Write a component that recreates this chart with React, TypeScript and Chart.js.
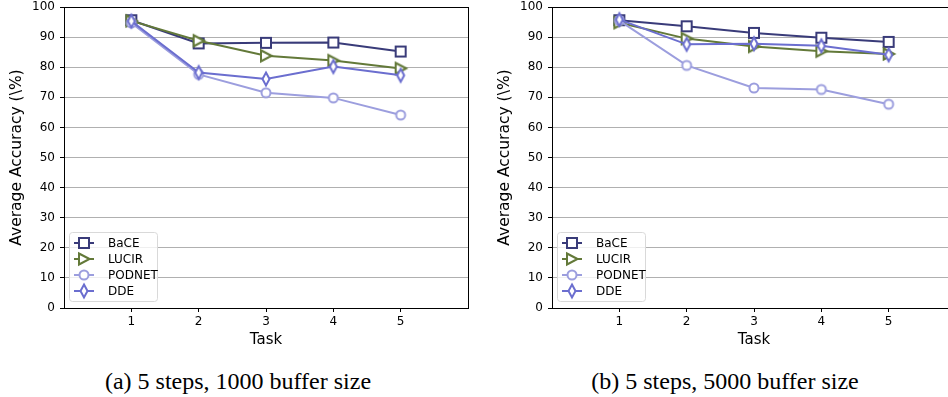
import React, { useEffect, useRef } from 'react';
import { Chart, registerables } from 'chart.js';

Chart.register(...registerables);

// ---------------- data ----------------
const tasks = [1, 2, 3, 4, 5];
const xTickLabels = ['1', '2', '3', '4', '5'];
const seriesNames = ['BaCE', 'LUCIR', 'PODNET', 'DDE'];

const bace1000 = [95.6, 87.9, 88.1, 88.2, 85.2];
const lucir1000 = [95.4, 88.8, 83.8, 82.2, 79.6];
const podnet1000 = [94.7, 77.6, 71.5, 69.8, 64.1];
const dde1000 = [95.3, 78.2, 76.1, 80.2, 77.3];

const bace5000 = [95.6, 93.6, 91.4, 89.8, 88.4];
const lucir5000 = [94.8, 89.5, 86.9, 85.3, 84.4];
const podnet5000 = [95.5, 80.6, 73.1, 72.6, 67.7];
const dde5000 = [95.8, 87.6, 87.8, 87.1, 84.1];

const captionA = '(a) 5 steps, 1000 buffer size';
const captionB = '(b) 5 steps, 5000 buffer size';

// ---------------- styles ----------------
const colors = ['#393b79', '#637939', '#9c9ede', '#6b6ecf'];
const shapes = ['square', 'triR', 'circle', 'thinDiamond'];
const FONT = 'DejaVu Sans';

function makeMarker(shape: string, color: string): HTMLCanvasElement {
  const c = document.createElement('canvas');
  c.width = 20;
  c.height = 20;
  const ctx = c.getContext('2d')!;
  ctx.translate(10, 10);
  ctx.beginPath();
  if (shape === 'square') {
    ctx.rect(-5, -5, 10, 10);
  } else if (shape === 'triR') {
    ctx.moveTo(5.5, 0);
    ctx.lineTo(-5, -5.5);
    ctx.lineTo(-5, 5.5);
    ctx.closePath();
  } else if (shape === 'circle') {
    ctx.arc(0, 0, 4.5, 0, Math.PI * 2);
  } else {
    ctx.moveTo(0, -6.5);
    ctx.lineTo(3.5, 0);
    ctx.lineTo(0, 6.5);
    ctx.lineTo(-3.5, 0);
    ctx.closePath();
  }
  ctx.fillStyle = '#ffffff';
  ctx.fill();
  ctx.lineWidth = 2;
  ctx.strokeStyle = color;
  ctx.lineJoin = 'miter';
  ctx.stroke();
  return c;
}

const frameLegendPlugin = {
  id: 'frameLegend',
  afterDraw(chart: any) {
    const { ctx, chartArea } = chart;
    const markers: HTMLCanvasElement[] = chart.options.plugins.frameLegend.markers;
    ctx.save();
    // frame
    const l = Math.round(chartArea.left) + 0.5;
    const t = Math.round(chartArea.top) + 0.5;
    const r = Math.round(chartArea.right) + 0.5;
    const b = Math.round(chartArea.bottom) + 0.5;
    ctx.strokeStyle = '#000';
    ctx.lineWidth = 1;
    ctx.strokeRect(l, t, r - l, b - t);

    // legend box
    const bx = Math.round(chartArea.left) + 5.5;
    const by = Math.round(chartArea.bottom) - 75.5;
    const bw = 88;
    const bh = 69;
    const rad = 3;
    ctx.beginPath();
    ctx.moveTo(bx + rad, by);
    ctx.lineTo(bx + bw - rad, by);
    ctx.arcTo(bx + bw, by, bx + bw, by + rad, rad);
    ctx.lineTo(bx + bw, by + bh - rad);
    ctx.arcTo(bx + bw, by + bh, bx + bw - rad, by + bh, rad);
    ctx.lineTo(bx + rad, by + bh);
    ctx.arcTo(bx, by + bh, bx, by + bh - rad, rad);
    ctx.lineTo(bx, by + rad);
    ctx.arcTo(bx, by, bx + rad, by, rad);
    ctx.closePath();
    ctx.fillStyle = 'rgba(255,255,255,0.8)';
    ctx.fill();
    ctx.strokeStyle = '#d9d9d9';
    ctx.lineWidth = 1;
    ctx.stroke();

    ctx.font = `12px "${FONT}"`;
    ctx.textBaseline = 'middle';
    ctx.textAlign = 'left';
    seriesNames.forEach((name, i) => {
      const cy = Math.round(by) + 10 + 16 * i;
      const lx = Math.round(bx) + 4;
      ctx.beginPath();
      ctx.moveTo(lx, cy);
      ctx.lineTo(lx + 20, cy);
      ctx.strokeStyle = colors[i];
      ctx.lineWidth = 2;
      ctx.stroke();
      ctx.drawImage(markers[i], lx + 10 - 10, cy - 10);
      ctx.fillStyle = '#000';
      ctx.fillText(name, lx + 34, cy + 1);
    });
    ctx.restore();
  },
};

function Panel({ left, series }: { left: number; series: number[][] }) {
  const ref = useRef<HTMLCanvasElement | null>(null);
  useEffect(() => {
    if (!ref.current) return;
    const markers = shapes.map((s, i) => makeMarker(s, colors[i]));
    const datasets = series.map((vals, i) => ({
      label: seriesNames[i],
      data: vals.map((v, j) => ({ x: tasks[j], y: v })),
      borderColor: colors[i],
      backgroundColor: colors[i],
      borderWidth: 2,
      pointStyle: markers[i],
      pointRadius: 6,
      tension: 0,
      fill: false,
      clip: false,
      order: series.length - 1 - i,
    }));
    const chart = new Chart(ref.current, {
      type: 'line',
      data: { datasets },
      plugins: [frameLegendPlugin],
      options: {
        responsive: false,
        animation: false,
        layout: { autoPadding: false, padding: { left: 0, top: 7, right: 12, bottom: 0 } },
        plugins: {
          legend: { display: false },
          tooltip: { enabled: false },
          frameLegend: { markers },
        } as any,
        scales: {
          x: {
            type: 'linear',
            min: 0,
            max: 6,
            afterBuildTicks: (s: any) => {
              s.ticks = tasks.map((v) => ({ value: v }));
            },
            afterFit: (s: any) => {
              s.height = 47;
              s.paddingLeft = 0;
              s.paddingRight = 0;
              s.paddingTop = 0;
              s.paddingBottom = 0;
            },
            grid: {
              drawOnChartArea: false,
              drawTicks: true,
              tickLength: 4,
              tickColor: '#000',
              tickWidth: 1,
            },
            border: { display: false },
            ticks: {
              color: '#000',
              font: { family: FONT, size: 12 },
              padding: 3,
              maxRotation: 0,
              autoSkip: false,
              callback: (v: any) => {
                const k = tasks.indexOf(Number(v));
                return k >= 0 ? xTickLabels[k] : '';
              },
            },
            title: {
              display: true,
              text: 'Task',
              color: '#000',
              font: { family: FONT, size: 15 },
              padding: { top: 0, bottom: 6 },
            },
          },
          y: {
            min: 0,
            max: 100,
            afterFit: (s: any) => {
              s.width = 64;
              s.paddingLeft = 0;
              s.paddingRight = 0;
              s.paddingTop = 0;
              s.paddingBottom = 0;
            },
            grid: {
              color: '#b0b0b0',
              lineWidth: 1,
              drawTicks: true,
              tickLength: 4,
              tickColor: '#000',
              tickWidth: 1,
            },
            border: { display: false },
            ticks: {
              stepSize: 10,
              color: '#000',
              font: { family: FONT, size: 12 },
              padding: 5,
            },
            title: {
              display: true,
              text: 'Average Accuracy (\\%)',
              color: '#000',
              font: { family: FONT, size: 15.5 },
              padding: { top: 8, bottom: 0 },
            },
          },
        } as any,
      },
    } as any);
    return () => chart.destroy();
  }, [series]);
  return (
    <canvas
      ref={ref}
      width={480}
      height={355}
      style={{ position: 'absolute', left, top: 0, width: 480, height: 355 }}
    />
  );
}

const seriesA = [bace1000, lucir1000, podnet1000, dde1000];
const seriesB = [bace5000, lucir5000, podnet5000, dde5000];

export default function App() {
  const capStyle: React.CSSProperties = {
    position: 'absolute',
    top: 369,
    width: 400,
    textAlign: 'center',
    fontFamily: '"Liberation Serif", "Times New Roman", serif',
    fontSize: 24,
    lineHeight: '24px',
    color: '#000',
    whiteSpace: 'nowrap',
  };
  return (
    <div
      style={{
        position: 'fixed',
        left: 0,
        top: 0,
        width: 948,
        height: 397,
        overflow: 'hidden',
        background: '#fff',
      }}
    >
      <Panel left={0} series={seriesA} />
      <Panel left={488} series={seriesB} />
      <div style={{ ...capStyle, left: 238 - 200 }}>{captionA}</div>
      <div style={{ ...capStyle, left: 725 - 200 }}>{captionB}</div>
    </div>
  );
}
